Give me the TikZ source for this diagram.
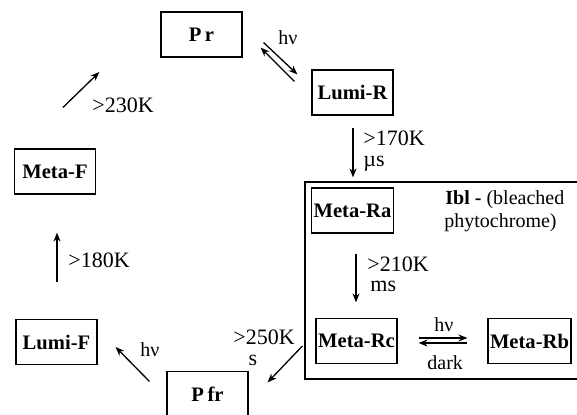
\documentclass[tikz,border=0pt]{standalone}
\usepackage{fontspec}
\setmainfont{Liberation Serif}
\usetikzlibrary{arrows.meta,positioning,calc}

\tikzset{
  state/.style={draw, line width=0.6pt, minimum width=40.5pt, minimum height=22.5pt,
    inner sep=1pt, font=\bfseries\fontsize{10.3}{12}\selectfont},
  rxn/.style={-{Stealth[length=4.5pt,width=3.5pt]}, line width=0.65pt},
  lbl/.style={inner sep=0pt, anchor=base west, font=\fontsize{10}{12}\selectfont},
  temp/.style={lbl, font=\fontsize{11}{13}\selectfont}
}

\begin{document}
\begin{tikzpicture}[x=0.5pt, y=-0.5pt]
        \useasboundingbox[fill=white] (0,0) rectangle (577,415);
        % Bleached region
        \draw[line width=0.6pt] (580,182) -- (305,182) -- (305,379) -- (580,379);
        % States
        \node[state] (pr) at (201.5,34.5) {P\,r};
        \node[state] (lumiR) at (352.5,92.5) {Lumi-R};
        \node[state] (metaRa) at (352.5,210.5) {Meta-Ra};
        \node[state] (metaRc) at (356.5,341) {Meta-Rc};
        \node[state] (metaRb) at (529.5,341) {Meta-Rb};
        \node[state] (pfr) at (207.5,394) {P\,fr};
        \node[state] (lumiF) at (56.5,342) {Lumi-F};
        \node[state] (metaF) at (55,171.5) {Meta-F};
        % Reactions
        \draw[rxn] ([shift={(8,-41)}]metaF.north) -- ([shift={(-61,37.5)}]pr.west);
        \draw[rxn] ([shift={(21,-15)}]pr.south east) -- ([shift={(-14,5)}]lumiR.north west);
        \draw[rxn] ([shift={(-17,12)}]lumiR.north west) -- ([shift={(18,-10)}]pr.south east);
        \draw[rxn] ([shift={(0.5,12)}]lumiR.south) -- ([shift={(0.5,-10)}]metaRa.north);
        \draw[rxn] ([shift={(3.5,20)}]metaRa.south) -- ([shift={(-0.5,-15.5)}]metaRc.north);
        \draw[rxn] ([shift={(21,-3)}]metaRc.east) -- ([shift={(-20,-3)}]metaRb.west);
        \draw[rxn] ([shift={(-20,2)}]metaRb.west) -- ([shift={(21,2)}]metaRc.east);
        \draw[rxn] ([shift={(-13,5)}]metaRc.west) -- ([shift={(19,11.5)}]pfr.north east);
        \draw[rxn] ([shift={(-17,10.5)}]pfr.north west) -- ([shift={(18,5)}]lumiF.east);
        \draw[rxn] ([shift={(0.5,-36.5)}]lumiF.north) -- ([shift={(2,38)}]metaF.south);
        % Labels
        \node[temp] (t230) at (92,113) {>230K};
        \node[lbl] (hvPr) at (278,45) {hν};
        \node[temp] (t170) at (363,146) {>170K};
        \node[temp] (tmus) at (363,167) {µs};
        \node[temp] (t210) at (367,272) {>210K};
        \node[temp] (tms) at (370,292) {ms};
        \node[temp] (t250) at (233,345) {>250K};
        \node[temp, anchor=base] (ts) at (253,366) {s};
        \node[lbl] (hvPfr) at (140,357) {hν};
        \node[temp] (t180) at (68,268) {>180K};
        \node[lbl] (hvRc) at (434,332) {hν};
        \node[lbl] (tdark) at (427,370) {dark};
        \node[lbl] (ibl) at (445,205) {\textbf{Ibl -} (bleached};
        \node[lbl] (iblb) at (444,228) {phytochrome)};
      \end{tikzpicture}
\end{document}
